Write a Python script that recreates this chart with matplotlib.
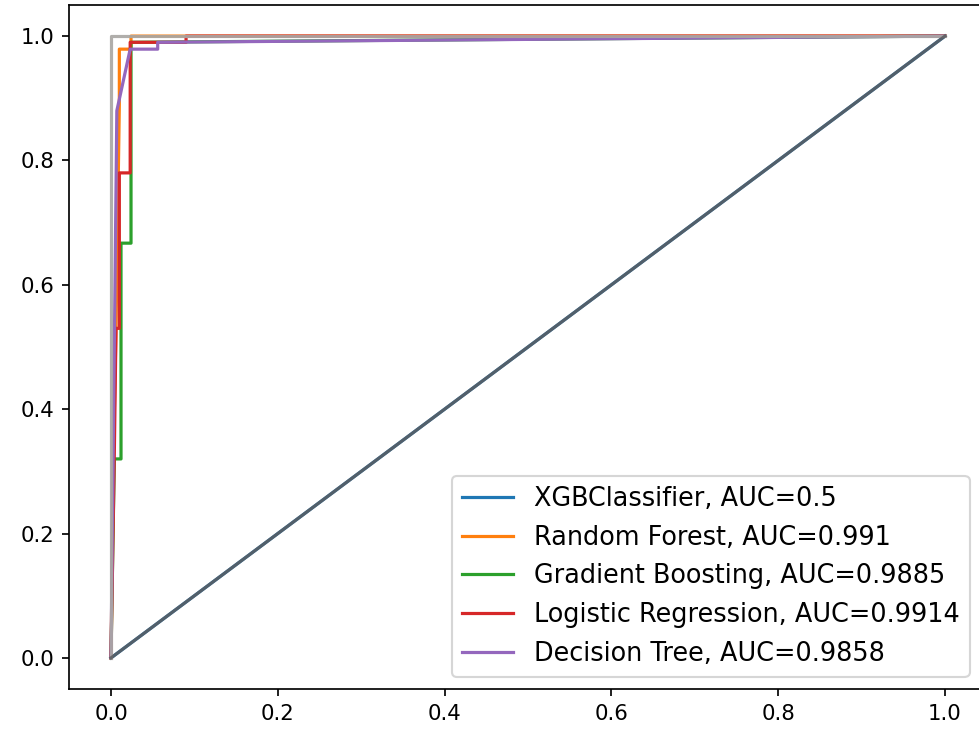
import matplotlib
matplotlib.use("Agg")
import matplotlib.pyplot as plt

# ROC curve points (false positive rate, true positive rate) per model
xgb_fpr = [0.0, 1.0]
xgb_tpr = [0.0, 1.0]
xgb_auc = 0.5

rf_fpr = [0.0, 0.003, 0.006, 0.010, 0.010, 0.024, 0.024, 1.0]
rf_tpr = [0.0, 0.33, 0.53, 0.89, 0.979, 0.979, 1.0, 1.0]
rf_auc = 0.991

gb_fpr = [0.0, 0.004, 0.012, 0.012, 0.024, 0.024, 0.024, 1.0]
gb_tpr = [0.0, 0.32, 0.32, 0.667, 0.667, 0.78, 0.99, 1.0]
gb_auc = 0.9885

lr_fpr = [0.0, 0.004, 0.006, 0.010, 0.010, 0.023, 0.023, 0.090, 0.090, 1.0]
lr_tpr = [0.0, 0.33, 0.53, 0.53, 0.78, 0.78, 0.99, 0.99, 1.0, 1.0]
lr_auc = 0.9914

dt_fpr = [0.0, 0.007, 0.023, 0.056, 0.056, 1.0]
dt_tpr = [0.0, 0.88, 0.979, 0.979, 0.99, 1.0]
dt_auc = 0.9858

# Ideal classifier and chance line
ideal_fpr = [0.0, 0.0, 1.0]
ideal_tpr = [0.0, 1.0, 1.0]
chance_fpr = [0.0, 1.0]
chance_tpr = [0.0, 1.0]

W, H, DPI = 979, 736, 153
fig = plt.figure(figsize=(W / DPI, H / DPI), dpi=DPI)
ax = fig.add_axes([69.3 / W, (H - 689) / H, 917.4 / W, 684 / H])

ax.plot(xgb_fpr, xgb_tpr, color="tab:blue", label=f"XGBClassifier, AUC={xgb_auc}")
ax.plot(rf_fpr, rf_tpr, color="tab:orange", label=f"Random Forest, AUC={rf_auc}")
ax.plot(gb_fpr, gb_tpr, color="tab:green", label=f"Gradient Boosting, AUC={gb_auc}")
ax.plot(lr_fpr, lr_tpr, color="tab:red", label=f"Logistic Regression, AUC={lr_auc}")
ax.plot(dt_fpr, dt_tpr, color="tab:purple", label=f"Decision Tree, AUC={dt_auc}")
ax.plot(ideal_fpr, ideal_tpr, color="#aaa7a4", alpha=0.92)
ax.plot(chance_fpr, chance_tpr, color="#5a5c60", alpha=0.88)

ax.set_xlim(-0.05, 1.05)
ax.set_ylim(-0.05, 1.05)
ax.set_xticks([0.0, 0.2, 0.4, 0.6, 0.8, 1.0])
ax.set_yticks([0.0, 0.2, 0.4, 0.6, 0.8, 1.0])

handles, labels = ax.get_legend_handles_labels()
ax.legend(handles[:5], labels[:5], loc="lower left", fontsize=12,
          bbox_to_anchor=(452 / W, 59 / H), bbox_transform=fig.transFigure,
          borderaxespad=0.0)

fig.savefig("out.png", dpi=DPI)
